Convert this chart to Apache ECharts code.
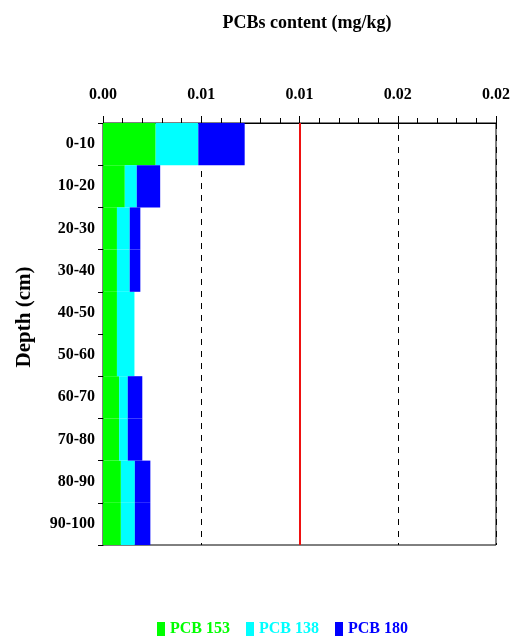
<!DOCTYPE html>
<html><head><meta charset="utf-8">
<script src="https://cdn.jsdelivr.net/npm/echarts@6/dist/echarts.min.js"></script>
<style>html,body{margin:0;padding:0;background:#fff}#c{width:513px;height:637px}</style>
</head><body><div id="c"></div>
<script>
const categories = ['0-10','10-20','20-30','30-40','40-50','50-60','60-70','70-80','80-90','90-100'];
const pcb153 = [0.00268,0.00111,0.00071,0.00071,0.00071,0.00071,0.00082,0.00082,0.00091,0.00091];
const pcb138 = [0.00217,0.00061,0.00065,0.00065,0.00089,0.00089,0.00044,0.00044,0.00071,0.00071];
const pcb180 = [0.00236,0.00119,0.00054,0.00054,0,0,0.00074,0.00074,0.00079,0.00079];
const xTicks = [0, 0.005, 0.01, 0.015, 0.02];
const xTickLabels = ['0.00','0.01','0.01','0.02','0.02'];
const refLine = 0.01;
const seriesNames = ['PCB 153','PCB 138','PCB 180'];
const colors = ['#00ff00','#00ffff','#0000ff'];

const font = '"Liberation Serif", "Times New Roman", serif';
const chart = echarts.init(document.getElementById('c'));
const mk = (name, data, i) => ({
  name, type:'bar', stack:'a', data, barWidth:'100%', barCategoryGap:0,
  itemStyle:{color:colors[i]}, emphasis:{disabled:true}
});
const series = [mk(seriesNames[0],pcb153,0), mk(seriesNames[1],pcb138,1), mk(seriesNames[2],pcb180,2)];
series[2].markLine = {symbol:'none', silent:true, label:{show:false},
  lineStyle:{color:'#ee1111', width:2, type:'solid'}, data:[{xAxis:refLine}]};
chart.setOption({
  animation:false,
  grid:{left:103, right:14, top:123, bottom:92, show:true, borderColor:'#000', borderWidth:1},
  graphic:[
    {type:'text', x:307, y:14, style:{text:'PCBs content (mg/kg)', textAlign:'center', font:'bold 18px '+font, fill:'#000'}},
    {type:'text', rotation:Math.PI/2, x:25, y:317, style:{text:'Depth (cm)', textAlign:'center', textVerticalAlign:'middle', font:'bold 21px '+font, fill:'#000'}}
  ],
  legend:{top:616, left:152, itemWidth:8, itemHeight:14, itemGap:16, icon:'rect',
    data:seriesNames.map((n,i)=>({name:n, textStyle:{color:colors[i]}})),
    textStyle:{fontFamily:font, fontWeight:'bold', fontSize:16}},
  xAxis:{type:'value', position:'top', min:xTicks[0], max:xTicks[xTicks.length-1], interval:xTicks[1]-xTicks[0],
    axisLine:{show:true, lineStyle:{color:'#000', width:1}},
    axisTick:{show:true, inside:false, length:7, lineStyle:{color:'#000'}},
    minorTick:{show:true, splitNumber:5, length:5, lineStyle:{color:'#000'}},
    splitLine:{show:true, lineStyle:{color:'#000', type:[6,6], width:1}},
    axisLabel:{formatter:v=>{const i=xTicks.findIndex(t=>Math.abs(t-v)<1e-9);return i>=0?xTickLabels[i]:'';},
      margin:20, fontFamily:font, fontWeight:'bold', fontSize:16, color:'#000'}},
  yAxis:{type:'category', data:categories, inverse:true,
    axisLine:{show:true, lineStyle:{color:'#000', width:1}},
    axisTick:{show:true, length:5, lineStyle:{color:'#000'}},
    axisLabel:{margin:8, fontFamily:font, fontWeight:'bold', fontSize:16, color:'#000'}},
  series
});
</script></body></html>
